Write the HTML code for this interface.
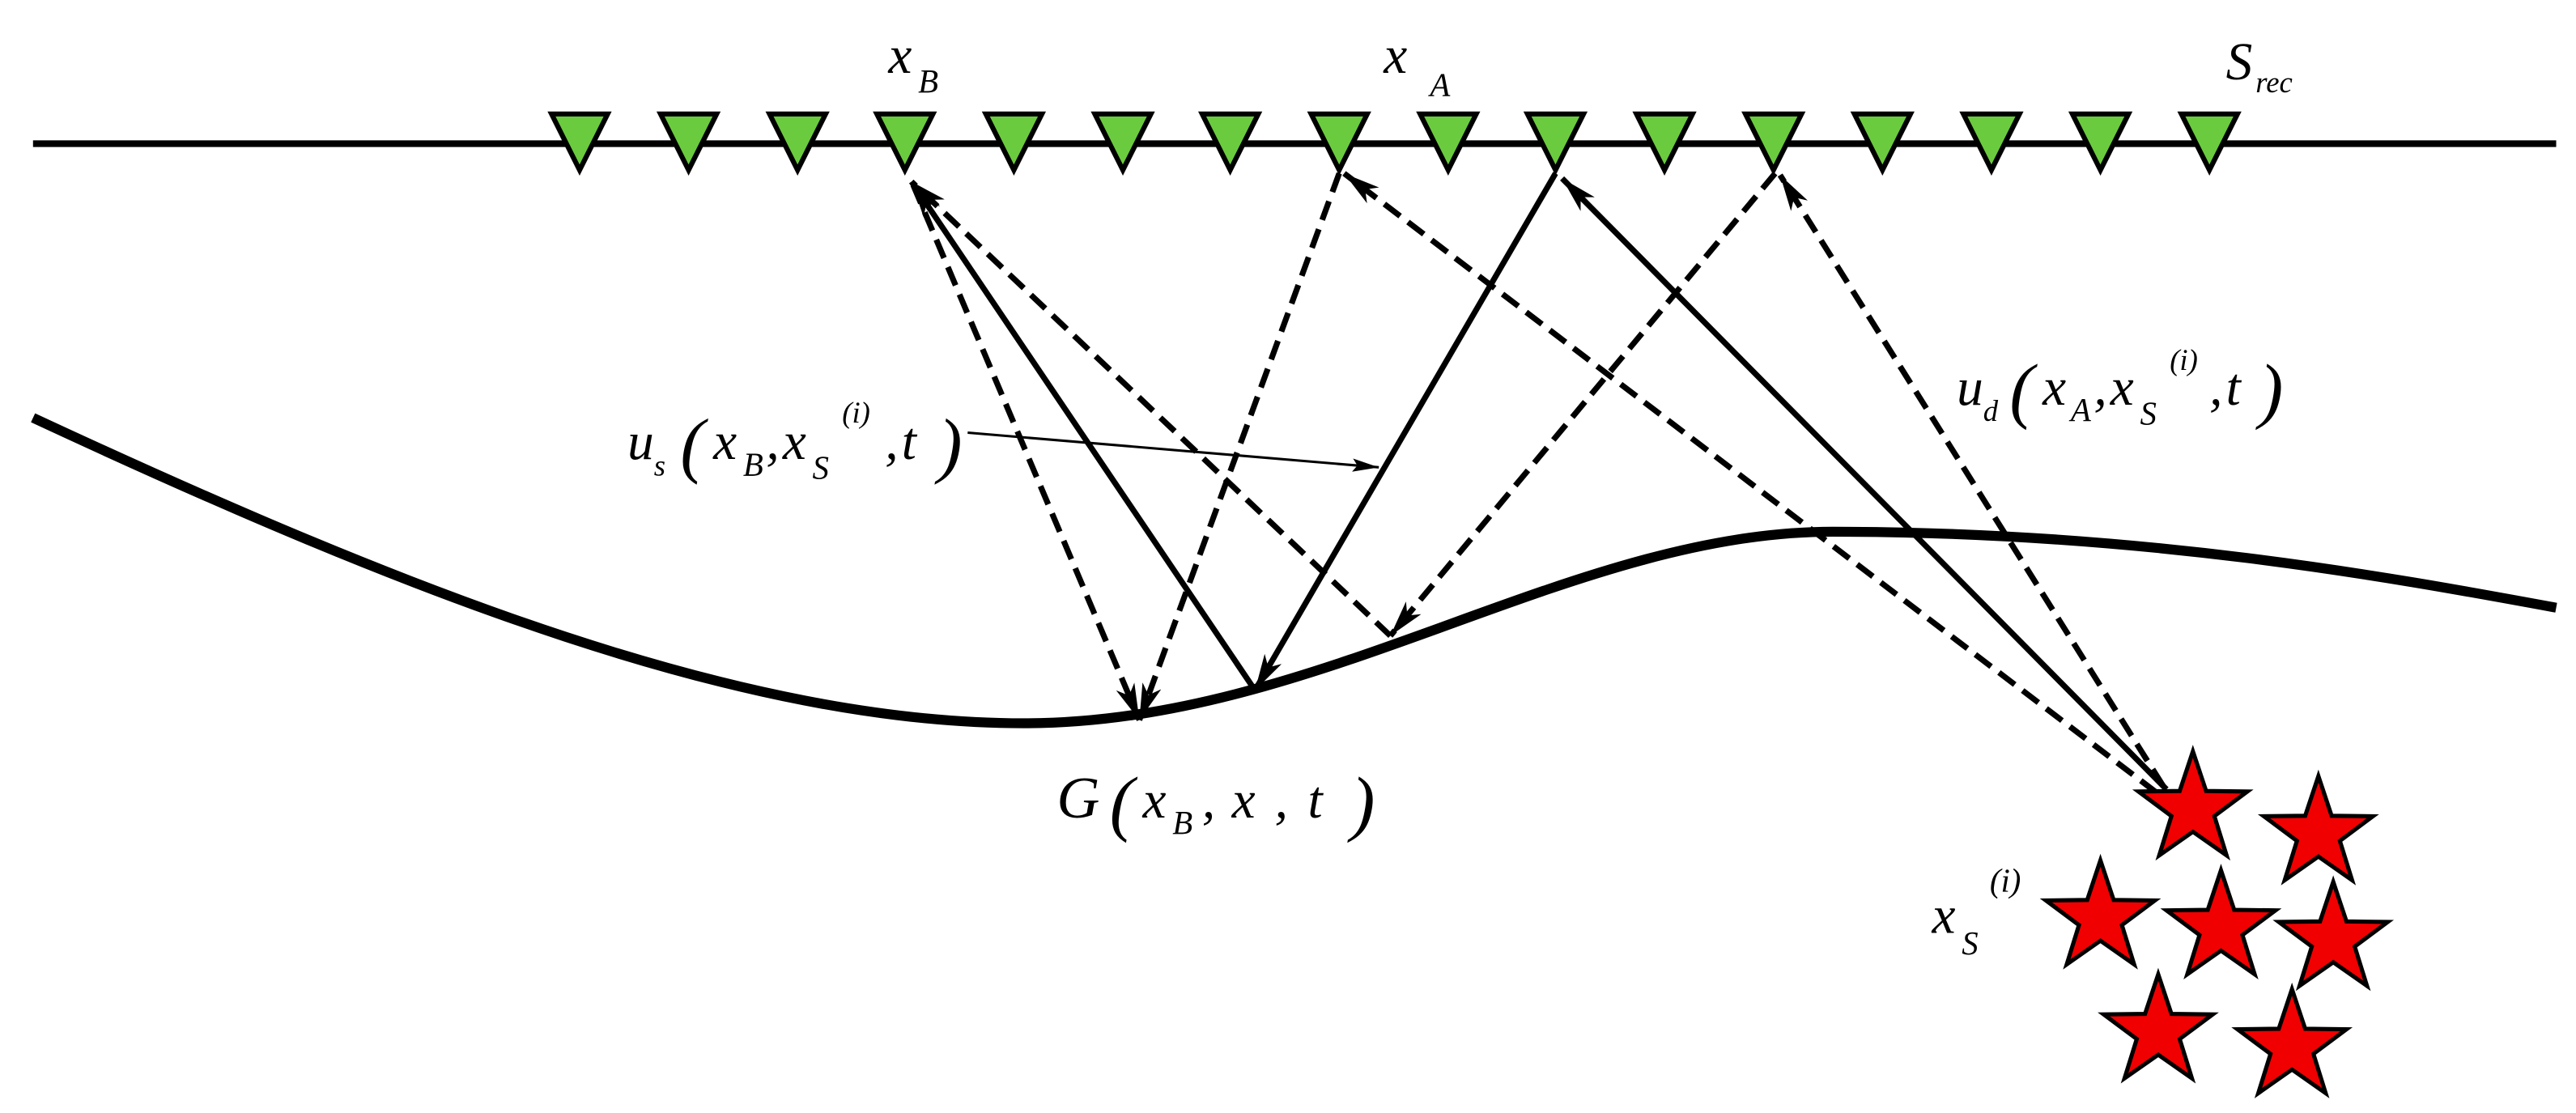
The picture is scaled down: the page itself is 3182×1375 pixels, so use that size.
<!DOCTYPE html>
<html><head><meta charset="utf-8"><style>
html,body{margin:0;padding:0;background:#fff;}
svg{display:block;}
text{font-family:"Liberation Serif","DejaVu Serif","Times New Roman",serif;font-style:italic;fill:#000;}
</style></head><body>
<svg width="3182" height="1375" viewBox="0 0 1560 674" preserveAspectRatio="none" xmlns="http://www.w3.org/2000/svg">
<defs>
<marker id="ah" viewBox="0 0 22 12" refX="22" refY="6" markerWidth="22" markerHeight="12" markerUnits="userSpaceOnUse" orient="auto">
<path d="M0,0 L22,6 L0,12 L6,6 Z" fill="#000"/>
</marker>
<marker id="ahs" viewBox="0 0 16 8" refX="16" refY="4" markerWidth="16" markerHeight="8" markerUnits="userSpaceOnUse" orient="auto">
<path d="M0,0 L16,4 L0,8 L3,4 Z" fill="#000"/>
</marker>
<polygon id="tri" points="-17,-17 17,-17 0,17" fill="#6bcb3f" stroke="#000" stroke-width="3"/>
<polygon id="star" points="0,-35 8,-11 33,-10.7 13,4.2 20.4,28 0,13.7 -20.4,28 -13,4.2 -33,-10.7 -8,-11" fill="#f00000" stroke="#000" stroke-width="2.5"/>
</defs>
<line x1="20" y1="87" x2="1548" y2="87" stroke="#000" stroke-width="4"/>
<path d="M20,253 C250,360 450,438 620,438 C800,438 950,322 1110,322 C1300,322 1450,350 1548,368" fill="none" stroke="#000" stroke-width="6"/>
<g>
<use href="#tri" x="351" y="86"/><use href="#tri" x="417" y="86"/><use href="#tri" x="483" y="86"/><use href="#tri" x="548" y="86"/>
<use href="#tri" x="614" y="86"/><use href="#tri" x="680" y="86"/><use href="#tri" x="745" y="86"/><use href="#tri" x="811" y="86"/>
<use href="#tri" x="877" y="86"/><use href="#tri" x="942" y="86"/><use href="#tri" x="1008" y="86"/><use href="#tri" x="1074" y="86"/>
<use href="#tri" x="1140" y="86"/><use href="#tri" x="1206" y="86"/><use href="#tri" x="1272" y="86"/><use href="#tri" x="1338" y="86"/>
</g>
<g stroke="#000" stroke-width="3.5" fill="none">
<line x1="760" y1="418" x2="552" y2="110" marker-end="url(#ah)"/>
<line x1="942" y1="105" x2="760" y2="418" marker-end="url(#ah)"/>
<line x1="1312" y1="478" x2="946" y2="108" marker-end="url(#ah)"/>
</g>
<g stroke="#000" stroke-width="3.5" fill="none" stroke-dasharray="12,6">
<line x1="553" y1="112" x2="690" y2="436" marker-end="url(#ah)"/>
<line x1="811" y1="105" x2="690" y2="436" marker-end="url(#ah)"/>
<line x1="842" y1="385" x2="552" y2="110" marker-end="url(#ah)"/>
<line x1="1306" y1="480" x2="814" y2="105" marker-end="url(#ah)"/>
<line x1="1075" y1="105" x2="842" y2="385" marker-end="url(#ah)"/>
<line x1="1310" y1="476" x2="1078" y2="106" marker-end="url(#ah)"/>
</g>
<line x1="586" y1="262" x2="835" y2="283" stroke="#000" stroke-width="1.5" marker-end="url(#ahs)"/>
<g>
<use href="#star" x="1328" y="490"/><use href="#star" x="1404" y="505"/>
<use href="#star" x="1272" y="556"/><use href="#star" x="1345" y="562"/><use href="#star" x="1413" y="569"/>
<use href="#star" x="1307" y="625"/><use href="#star" x="1388" y="634"/>
</g>
<text x="538" y="44" font-size="32">x</text><text x="556" y="56" font-size="20">B</text>
<text x="838" y="44" font-size="32">x</text><text x="866" y="58" font-size="20">A</text>
<text x="1348" y="48" font-size="32">S</text><text x="1366" y="56" font-size="18">rec</text>

<text x="380" y="278" font-size="32">u</text><text x="396" y="288" font-size="18">s</text>
<text x="412" y="284" font-size="44" font-style="normal">(</text>
<text x="432" y="278" font-size="32">x</text><text x="450" y="288" font-size="20">B</text>
<text x="464" y="278" font-size="32">,</text><text x="474" y="278" font-size="32">x</text><text x="492" y="290" font-size="20">S</text>
<text x="510" y="256" font-size="18">(i)</text>
<text x="536" y="278" font-size="32">,</text><text x="546" y="278" font-size="32">t</text>
<text x="568" y="284" font-size="44" font-style="normal">)</text>

<text x="1185" y="245" font-size="32">u</text><text x="1201" y="255" font-size="18">d</text>
<text x="1217" y="251" font-size="44" font-style="normal">(</text>
<text x="1237" y="245" font-size="32">x</text><text x="1254" y="255" font-size="20">A</text>
<text x="1268" y="245" font-size="32">,</text><text x="1278" y="245" font-size="32">x</text><text x="1296" y="257" font-size="20">S</text>
<text x="1314" y="224" font-size="18">(i)</text>
<text x="1338" y="245" font-size="32">,</text><text x="1348" y="245" font-size="32">t</text>
<text x="1368" y="251" font-size="44" font-style="normal">)</text>

<text x="640" y="495" font-size="36">G</text>
<text x="672" y="501" font-size="44" font-style="normal">(</text>
<text x="692" y="495" font-size="32">x</text><text x="710" y="505" font-size="20">B</text>
<text x="728" y="495" font-size="32">,</text><text x="746" y="495" font-size="32">x</text>
<text x="772" y="495" font-size="32">,</text><text x="792" y="495" font-size="32">t</text>
<text x="818" y="501" font-size="44" font-style="normal">)</text>

<text x="1170" y="565" font-size="32">x</text><text x="1188" y="578" font-size="20">S</text>
<text x="1205" y="540" font-size="20">(i)</text>
</svg>
</body></html>
